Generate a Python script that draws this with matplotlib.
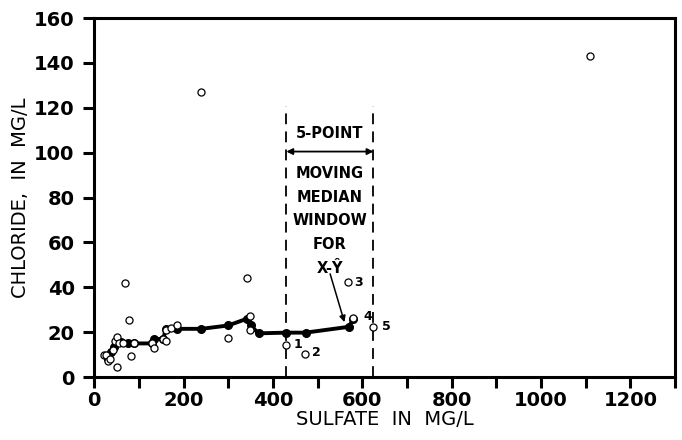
import matplotlib
matplotlib.use('Agg')
import matplotlib.pyplot as plt

# observed samples (open circles)
sulfate = [22, 26, 30, 35, 42, 47, 52, 52, 55, 65, 69, 77, 83, 90, 130, 133,
           155, 160, 160, 172, 185, 240, 300, 342, 349, 349, 430, 471, 567,
           580, 625, 1110]
chloride = [10, 10, 7, 8, 12, 16, 18, 4.5, 15, 15, 42, 25.5, 9.5, 15, 15, 13,
            17, 16, 21, 22, 23, 127, 17.5, 44, 27, 21, 14.5, 10.5, 42.5,
            26.5, 22.5, 143]

# moving median trace (filled dots)
med_x = [30, 38, 45, 52, 60, 75, 90, 130, 135, 155, 160, 185, 240, 300, 342,
         350, 368, 430, 473, 570, 580]
med_y = [8, 11, 13.5, 15.5, 15.5, 15, 15, 15, 17, 17, 21.5, 21.5, 21.5, 23,
         26, 23, 19.5, 19.8, 19.8, 22.4, 26]

win_lo, win_hi = 430, 625
window_text = ['5-POINT', 'MOVING', 'MEDIAN', 'WINDOW', 'FOR', 'X-\u0176']
window_text_y = [108.7, 90.9, 80.2, 70, 59.3, 48.6]
pt_labels = ['1', '2', '3', '4', '5']
pt_lab_x = [455, 498, 592, 613, 653]
pt_lab_y = [14.3, 11, 42.3, 27, 22.7]

fig = plt.figure(figsize=(6.82, 4.40), dpi=100)
ax = fig.add_axes([0.138, 0.143, 0.852, 0.816])

ax.plot(med_x, med_y, color='black', linewidth=2.8, marker='o', markersize=5.5, zorder=3)
ax.scatter(sulfate, chloride, s=26, facecolors='white', edgecolors='black',
           linewidths=0.9, zorder=4)

for xv in (win_lo, win_hi):
    ax.plot([xv, xv], [0, 121], color='black', linestyle=(0, (6, 4)), linewidth=1.3, zorder=2)

ax.annotate('', xy=(win_lo, 100.5), xytext=(win_hi, 100.5),
            arrowprops=dict(arrowstyle='<|-|>', color='black', lw=1.3,
                            mutation_scale=9, shrinkA=0, shrinkB=0))
for t, yv in zip(window_text, window_text_y):
    ax.text((win_lo + win_hi) / 2, yv, t, ha='center', va='center',
            fontsize=10.5, fontweight='bold')
ax.annotate('', xy=(560, 24.5), xytext=(528, 46),
            arrowprops=dict(arrowstyle='-|>', color='black', lw=1.1,
                            mutation_scale=9, shrinkA=0, shrinkB=0))
for t, xv, yv in zip(pt_labels, pt_lab_x, pt_lab_y):
    ax.text(xv, yv, t, ha='center', va='center', fontsize=9, fontweight='bold')

ax.set_xlim(0, 1300)
ax.set_ylim(0, 160)
ax.set_xticks(range(0, 1301, 100),
              [str(v) if v % 200 == 0 else '' for v in range(0, 1301, 100)])
ax.set_yticks(range(0, 161, 20))
ax.tick_params(direction='out', length=8, width=2.2, labelsize=14)
ax.tick_params(axis='x', pad=2)
ax.tick_params(axis='y', pad=6)
for lab in ax.get_xticklabels() + ax.get_yticklabels():
    lab.set_fontweight('bold')
for sp in ax.spines.values():
    sp.set_linewidth(2.2)

ax.set_xlabel('SULFATE  IN  MG/L', fontsize=14, labelpad=0)
ax.set_ylabel('CHLORIDE,  IN  MG/L', fontsize=14, labelpad=3)

fig.savefig('out.png', dpi=100)
